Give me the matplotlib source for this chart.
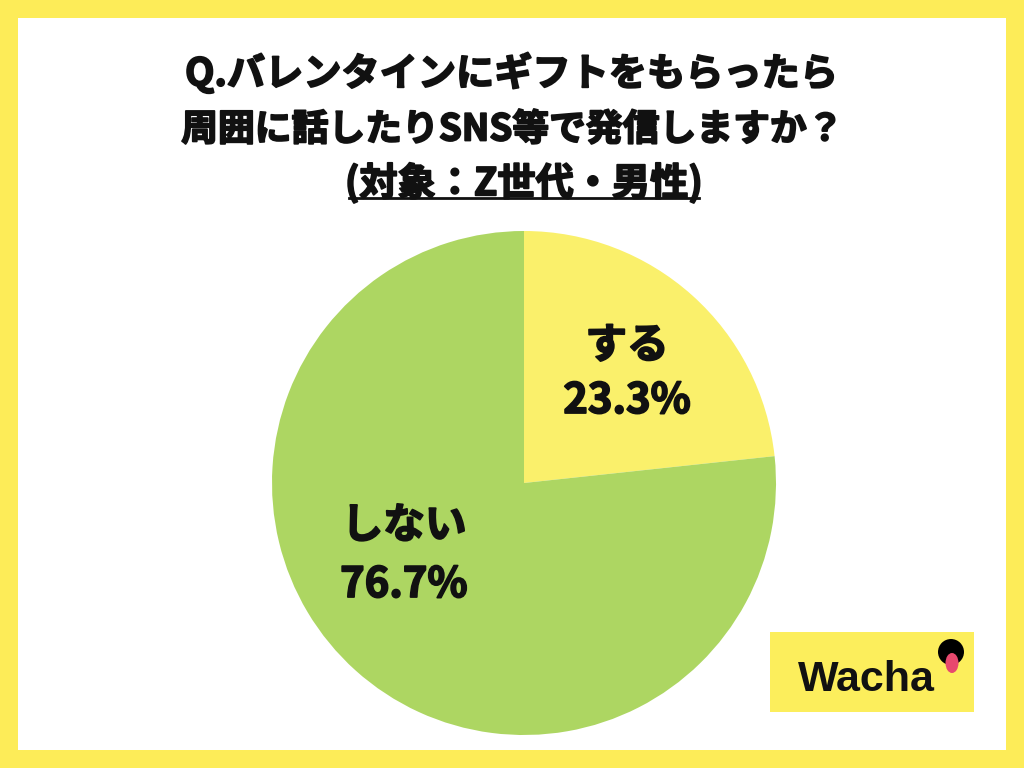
import matplotlib
matplotlib.use("Agg")
import matplotlib.pyplot as plt
import matplotlib.patheffects as pe
from matplotlib.patches import Rectangle, Ellipse
from matplotlib.lines import Line2D

plt.rcParams['font.family'] = ['Noto Sans CJK JP', 'DejaVu Sans']

title_lines = ["Q.バレンタインにギフトをもらったら", "周囲に話したりSNS等で発信しますか？", "(対象：Z世代・男性)"]
categories = ["する", "しない"]
shares = [23.3, 76.7]
colors = ["#FAF06B", "#ADD662"]
frame_color = "#FDEC58"
ink = "#111111"
heavy = [pe.withStroke(linewidth=1.3, foreground=ink)]

W, H = 1024, 768
fig = plt.figure(figsize=(W / 100, H / 100), dpi=100)
fig.patch.set_facecolor("white")

# yellow frame
b = 18
for (x, y, w, h) in [(0, 0, W, b), (0, H - b, W, b), (0, 0, b, H), (W - b, 0, b, H)]:
    fig.patches.append(Rectangle((x / W, y / H), w / W, h / H, transform=fig.transFigure,
                                 facecolor=frame_color, edgecolor="none", zorder=0))

# title
xs = [512, 512, 524]
ys = [73, 130, 183]
sizes = [27.5, 26.5, 27.5]
txts = []
for line, xx, yy, fs in zip(title_lines, xs, ys, sizes):
    t = fig.text(xx / W, 1 - yy / H, line, ha="center", va="center", fontsize=fs,
                 fontweight="bold", color=ink, path_effects=heavy)
    txts.append(t)

# pie
cx, cy, r = 524, 483, 252
ax = fig.add_axes([(cx - r) / W, (H - cy - r) / H, 2 * r / W, 2 * r / H])
wedges, _ = ax.pie(shares, colors=colors, startangle=90, counterclock=False,
                   wedgeprops=dict(linewidth=0))
ax.set_xlim(-1, 1)
ax.set_ylim(-1, 1)
ax.set_aspect("equal")
ax.axis("off")

label_pos = [(627, 346, 401), (404, 526, 585)]
for cat, val, (lx, ly1, ly2) in zip(categories, shares, label_pos):
    fig.text(lx / W, 1 - ly1 / H, cat, ha="center", va="center", fontsize=30,
             fontweight="bold", color=ink, path_effects=heavy)
    fig.text(lx / W, 1 - ly2 / H, f"{val:.1f}%", ha="center", va="center", fontsize=30,
             fontweight="bold", color=ink, path_effects=heavy)

# logo
fig.patches.append(Rectangle((770 / W, 1 - 712 / H), 204 / W, 80 / H, transform=fig.transFigure,
                             facecolor="#FCEE5C", edgecolor="none", zorder=1))
fig.text(866 / W, 1 - 680 / H, "Wacha", ha="center", va="center", fontsize=31,
         fontweight="bold", family="Liberation Sans", color=ink, zorder=3)
fig.patches.append(Ellipse((951 / W, 1 - 652 / H), 26 / W, 26 / H, transform=fig.transFigure,
                           facecolor="black", edgecolor="none", zorder=3))
fig.patches.append(Ellipse((952 / W, 1 - 663 / H), 13 / W, 20 / H, transform=fig.transFigure,
                           facecolor="#E8496E", edgecolor="none", zorder=4))

# underline for the last title line
fig.canvas.draw()
bb = txts[2].get_window_extent()
uy = 1 - 198 / H
fig.lines.append(Line2D([bb.x0 / W + 0.004, bb.x1 / W - 0.004], [uy, uy], transform=fig.transFigure,
                        color=ink, linewidth=2))

fig.savefig("out.png", dpi=100)
